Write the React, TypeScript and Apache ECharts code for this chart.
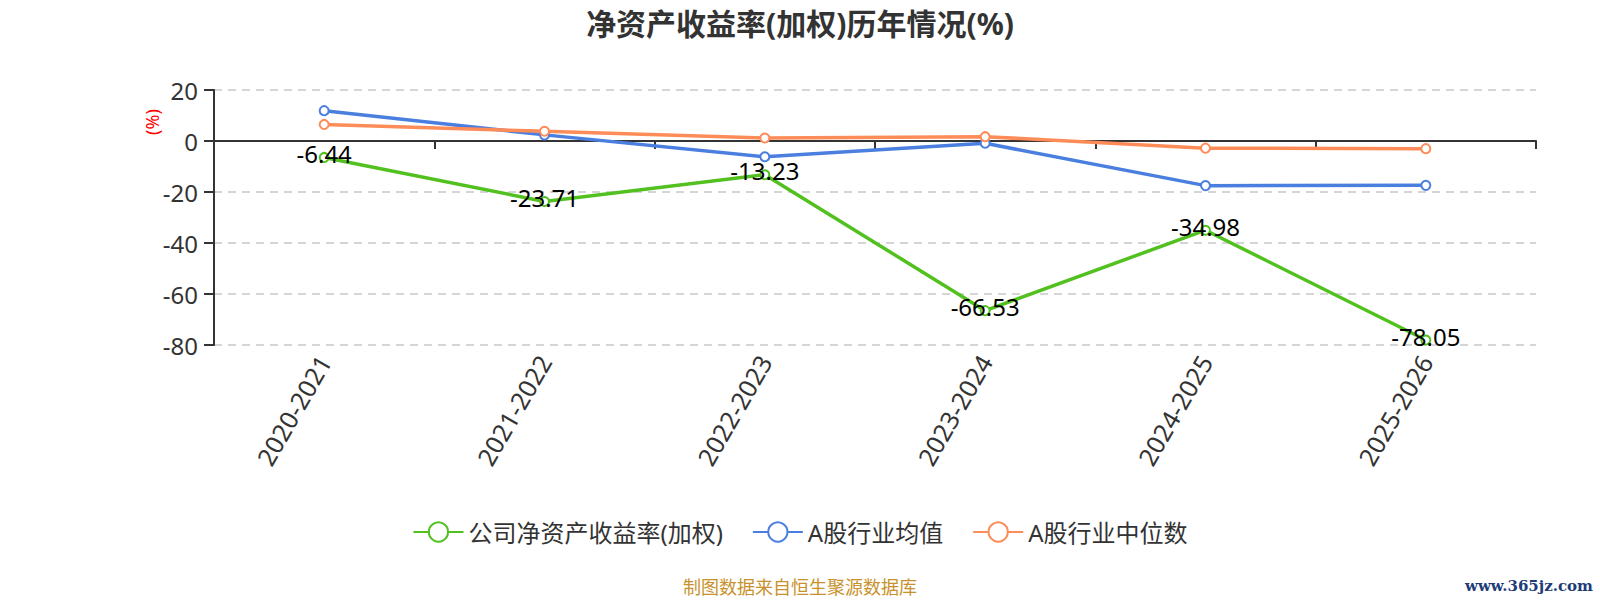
import React, { useEffect, useRef } from "react";
import * as echarts from "echarts";

const categories = ["2020-2021", "2021-2022", "2022-2023", "2023-2024", "2024-2025", "2025-2026"];
const companyRoe = [-6.44, -23.71, -13.23, -66.53, -34.98, -78.05];
const industryAvg = [11.9, 2.4, -6.2, -0.9, -17.5, -17.4];
const industryMedian = [6.5, 3.8, 1.2, 1.7, -2.8, -3.0];
const seriesNames = ["公司净资产收益率(加权)", "A股行业均值", "A股行业中位数"];
const colors = ["#52c11f", "#4a7fe0", "#fe8c58"];

const FONT = "'Noto Sans', 'Noto Sans CJK SC', sans-serif";

export default function App() {
  const ref = useRef<HTMLDivElement>(null);
  useEffect(() => {
    if (!ref.current) return;
    const chart = echarts.init(ref.current, undefined, { renderer: "svg" });
    const mk = (i: number, data: number[], withLabel: boolean) => ({
      name: seriesNames[i],
      type: "line",
      xAxisIndex: 0,
      data,
      symbol: "emptyCircle",
      symbolSize: 9,
      lineStyle: { width: 3.5, color: colors[i] },
      itemStyle: { color: colors[i], borderWidth: 2 },
      label: withLabel
        ? { show: true, position: "inside", offset: [0, -4], color: "#000", fontSize: 24, fontFamily: FONT }
        : { show: false },
    });
    chart.setOption({
      animation: false,
      textStyle: { fontFamily: FONT },
      title: {
        text: "净资产收益率(加权)历年情况(%)",
        left: "center",
        top: 3,
        textStyle: { fontSize: 30, fontWeight: "bold", color: "#333", fontFamily: FONT },
      },
      grid: { left: 214, right: 64, top: 90, bottom: 255, containLabel: false },
      legend: {
        top: 515,
        left: "center",
        itemWidth: 50,
        itemHeight: 24,
        itemGap: 29,
        textStyle: { fontSize: 24, color: "#333", fontFamily: FONT },
        data: seriesNames,
      },
      xAxis: [
        {
          type: "category",
          data: categories,
          axisLine: { onZero: true, lineStyle: { color: "#333", width: 2 } },
          axisTick: { show: true, length: 8, lineStyle: { color: "#333", width: 2 } },
          axisLabel: { show: false },
          splitLine: { show: false },
        },
        {
          type: "category",
          data: categories,
          position: "bottom",
          axisLine: { show: false },
          axisTick: { show: false },
          axisLabel: { show: true, rotate: 60, fontSize: 25, color: "#333", margin: 12, fontFamily: FONT },
          splitLine: { show: false },
        },
      ],
      yAxis: {
        type: "value",
        min: -80,
        max: 20,
        interval: 20,
        axisLine: { show: true, lineStyle: { color: "#333", width: 2 } },
        axisTick: { show: true, length: 10, lineStyle: { color: "#333", width: 2 } },
        axisLabel: { fontSize: 24, color: "#333", margin: 16, fontFamily: FONT },
        splitLine: { show: true, lineStyle: { type: [8, 6], color: "#c8c8c8", width: 1.5 } },
      },
      graphic: [
        {
          type: "text",
          x: 152,
          y: 122,
          rotation: Math.PI / 2,
          style: {
            text: "(%)",
            fill: "#ff0000",
            fontSize: 18,
            fontFamily: FONT,
            align: "center",
            verticalAlign: "middle",
          },
        },
        {
          type: "text",
          x: 800,
          y: 587,
          style: {
            text: "制图数据来自恒生聚源数据库",
            fill: "#c8912c",
            fontSize: 18,
            fontFamily: FONT,
            align: "center",
            verticalAlign: "middle",
          },
        },
        {
          type: "text",
          x: 1593,
          y: 586,
          style: {
            text: "www.365jz.com",
            fill: "#1d3c78",
            fontSize: 15,
            fontWeight: "bold",
            fontFamily: "'DejaVu Serif', serif",
            align: "right",
            verticalAlign: "middle",
          },
        },
      ],
      series: [mk(0, companyRoe, true), mk(1, industryAvg, false), mk(2, industryMedian, false)],
    });
    return () => chart.dispose();
  }, []);
  return (
    <div
      ref={ref}
      style={{ position: "fixed", left: 0, top: 0, width: 1600, height: 600, background: "#fff" }}
    />
  );
}
